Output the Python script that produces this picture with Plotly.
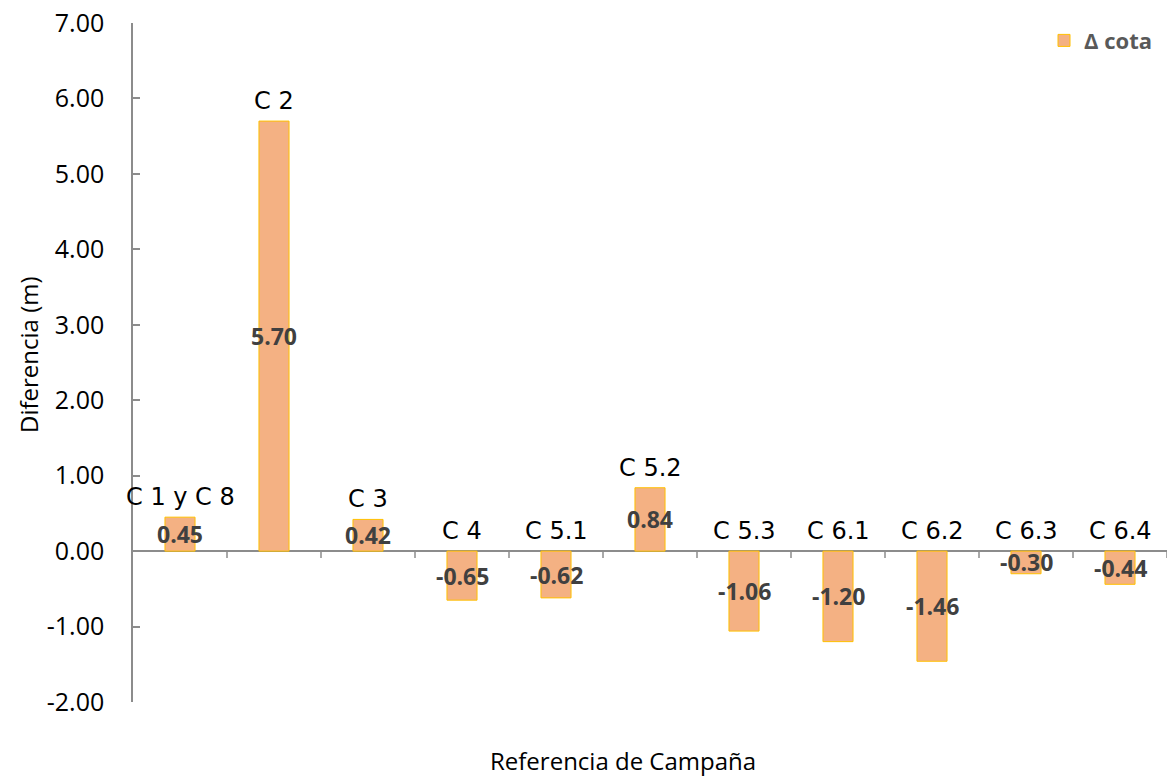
import plotly.graph_objects as go

categories = ["C 1 y C 8", "C 2", "C 3", "C 4", "C 5.1", "C 5.2", "C 5.3", "C 6.1", "C 6.2", "C 6.3", "C 6.4"]
values = [0.45, 5.70, 0.42, -0.65, -0.62, 0.84, -1.06, -1.20, -1.46, -0.30, -0.44]
y_ticks = [-2, -1, 0, 1, 2, 3, 4, 5, 6, 7]

FONT = "Open Sans"
CAT_FONT = "DejaVu Sans"
AXIS_COL = "#8c8c8c"
W, H = 1167, 778
ML, MR, MT, MB = 133, 0, 23, 76
PW, PH = W - ML - MR, H - MT - MB

fig = go.Figure()
fig.add_trace(go.Bar(
    x=list(range(len(categories))), y=values, name="Δ cota",
    marker=dict(color="#F4B183", line=dict(color="#FFC000", width=1)),
    width=0.32, showlegend=True,
))

annotations = []
for i, (c, v) in enumerate(zip(categories, values)):
    annotations.append(dict(x=i, y=max(v, 0), text=c, showarrow=False, yanchor="bottom",
                            yshift=4, font=dict(family=CAT_FONT, size=24, color="#000000")))
    annotations.append(dict(x=i, y=v / 2, text=f"{v:.2f}", showarrow=False,
                            font=dict(family=FONT, size=23, color="#404040", weight="bold")))
annotations.append(dict(xref="paper", yref="paper", x=(623 - ML) / PW,
                        y=-(761 - (MT + PH)) / PH,
                        xanchor="center", yanchor="middle",
                        text="Referencia de Campaña", showarrow=False,
                        font=dict(family=FONT, size=24, color="#000000")))
annotations.append(dict(xref="paper", yref="paper", x=-(ML - 28) / PW,
                        y=(MT + PH - 355) / PH,
                        xanchor="center", yanchor="middle", textangle=-90,
                        text="Diferencia (m)", showarrow=False,
                        font=dict(family=FONT, size=24, color="#000000")))

shapes = [dict(type="line", xref="x", yref="y", x0=i + 0.5, x1=i + 0.5, y0=0, y1=-0.09,
               line=dict(color=AXIS_COL, width=1.5)) for i in range(len(categories))]

fig.update_layout(
    width=W, height=H,
    margin=dict(l=ML, r=MR, t=MT, b=MB, autoexpand=False),
    plot_bgcolor="white", paper_bgcolor="white",
    bargap=0.68,
    annotations=annotations, shapes=shapes,
    legend=dict(x=(1044 - ML) / PW, xanchor="left", y=1.005, yanchor="top",
                font=dict(family=FONT, size=22, color="#595959", weight="bold"),
                bgcolor="rgba(0,0,0,0)"),
    xaxis=dict(range=[-0.5, len(categories) - 0.5], showticklabels=False, showgrid=False,
               zeroline=False, showline=False, ticks="", automargin=False),
    yaxis=dict(range=[-2, 7], tickvals=y_ticks, ticktext=[f"{t:.2f}" for t in y_ticks],
               showgrid=False, zeroline=True, zerolinecolor=AXIS_COL, zerolinewidth=1.5,
               showline=True, linecolor=AXIS_COL, linewidth=1.5,
               ticks="inside", ticklen=7, tickcolor=AXIS_COL, tickwidth=1.5,
               ticklabelstandoff=22, automargin=False,
               tickfont=dict(family=FONT, size=25, color="#000000")),
)

fig.write_html("out.html", config={"displayModeBar": False},
               post_script="document.body.style.margin='0';document.body.style.overflow='hidden';")
